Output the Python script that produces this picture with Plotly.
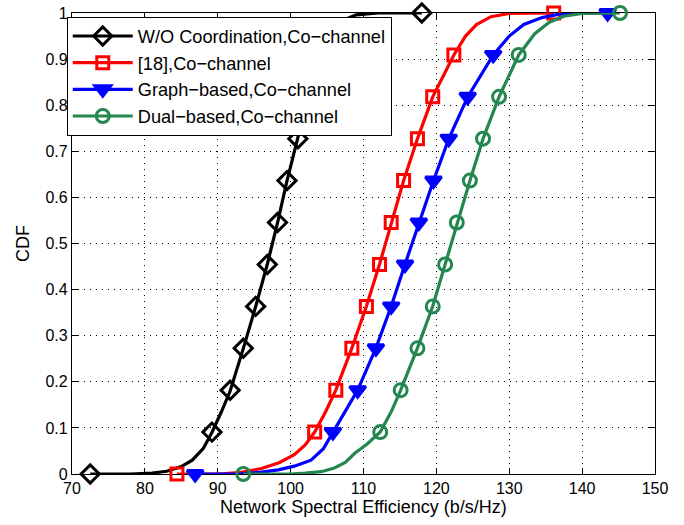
import plotly.graph_objects as go

# ---- data ----
names = ["W/O Coordination,Co\u2212channel", "[18],Co\u2212channel",
         "Graph\u2212based,Co\u2212channel", "Dual\u2212based,Co\u2212channel"]

# curve points (x = spectral efficiency, y = CDF)
black_x = [72.5, 78, 81, 83, 85, 86.5, 88, 89.2, 90.5, 91.7, 93.5, 95.2, 96.8, 98.2, 99.5,
           101.0, 102.4, 104.2, 105.5, 107, 109, 112, 118]
black_y = [0, 0, 0.002, 0.006, 0.016, 0.03, 0.055, 0.09, 0.135, 0.18, 0.272, 0.363, 0.455,
           0.545, 0.636, 0.727, 0.818, 0.909, 0.955, 0.983, 0.996, 1.0, 1.0]

red_x = [84.4, 90, 93, 96, 98.5, 100.5, 102, 103.3, 104.8, 106.2, 108.4, 110.4, 112.2, 113.8,
         115.5, 117.4, 119.5, 122.4, 124, 125.5, 127.5, 130, 133, 136.1]
red_y = [0, 0, 0.003, 0.012, 0.025, 0.042, 0.063, 0.091, 0.135, 0.182, 0.273, 0.364, 0.455,
         0.545, 0.636, 0.727, 0.818, 0.909, 0.95, 0.975, 0.992, 0.999, 1, 1]

blue_x = [86.9, 93, 96, 98.3, 100.5, 102.8, 104.5, 105.8, 107.5, 109.2, 111.7, 113.8, 115.7,
          117.6, 119.6, 121.7, 124.3, 127.8, 130, 132, 134.5, 137, 139, 143.5]
blue_y = [0, 0, 0.004, 0.009, 0.017, 0.03, 0.055, 0.091, 0.135, 0.182, 0.273, 0.364, 0.455,
          0.545, 0.636, 0.727, 0.818, 0.909, 0.95, 0.975, 0.99, 0.998, 1, 1]

green_x = [93.5, 100, 102, 104.2, 106, 107.5, 108.8, 110.5, 112.3, 113.8, 115.1, 117.4, 119.5,
           121.2, 122.8, 124.6, 126.4, 128.6, 131.3, 133.5, 135.5, 137.5, 140, 142, 145.2]
green_y = [0, 0, 0.002, 0.005, 0.013, 0.025, 0.045, 0.065, 0.091, 0.135, 0.182, 0.273, 0.364,
           0.455, 0.545, 0.636, 0.727, 0.818, 0.909, 0.955, 0.98, 0.993, 0.999, 1, 1]

# marker points (CDF levels k/11)
levels = [0, 0.0909, 0.1818, 0.2727, 0.3636, 0.4545, 0.5455, 0.6364, 0.7273, 0.8182, 0.9091, 1.0]
black_mx = [72.5, 89.2, 91.7, 93.5, 95.2, 96.8, 98.2, 99.5, 101.0, 102.4, 104.2, 118.0]
red_mx = [84.4, 103.3, 106.2, 108.4, 110.4, 112.2, 113.8, 115.5, 117.4, 119.5, 122.4, 136.1]
blue_mx = [86.9, 105.8, 109.2, 111.7, 113.8, 115.7, 117.6, 119.6, 121.7, 124.3, 127.8, 143.5]
green_mx = [93.5, 112.3, 115.1, 117.4, 119.5, 121.2, 122.8, 124.6, 126.4, 128.6, 131.3, 145.2]

x_ticks = [70, 80, 90, 100, 110, 120, 130, 140, 150]
y_ticks = [0, 0.1, 0.2, 0.3, 0.4, 0.5, 0.6, 0.7, 0.8, 0.9, 1]
y_ticklabels = ["0", "0.1", "0.2", "0.3", "0.4", "0.5", "0.6", "0.7", "0.8", "0.9", "1"]

# ---- styles ----
colors = ["#000000", "#ff0000", "#0000ff", "#23874f"]
symbols = ["diamond-open", "square-open", "triangle-down", "circle-open"]
msizes = [14, 12, 14, 13]
curves = [(black_x, black_y), (red_x, red_y), (blue_x, blue_y), (green_x, green_y)]
mxs = [black_mx, red_mx, blue_mx, green_mx]

fig = go.Figure()
for i in range(4):
    cx, cy = curves[i]
    fig.add_trace(go.Scatter(x=cx, y=cy, mode="lines", line=dict(color=colors[i], width=3.2),
                             showlegend=False, cliponaxis=False, hoverinfo="skip"))
    mk = dict(symbol=symbols[i], size=msizes[i], color=colors[i],
              line=dict(color=colors[i], width=3))
    fig.add_trace(go.Scatter(x=mxs[i], y=levels, mode="markers", marker=mk,
                             showlegend=False, cliponaxis=False))
    fig.add_trace(go.Scatter(x=[None], y=[None], mode="lines+markers", name=names[i],
                             line=dict(color=colors[i], width=3.2), marker=mk))

fam = "Liberation Sans, Arial, sans-serif"
tick_font = dict(family=fam, size=16, color="black")
title_font = dict(family=fam, size=18, color="black")
axis_common = dict(showline=True, linecolor="black", linewidth=1.2, mirror="allticks",
                   ticks="inside", ticklen=6, tickcolor="black", showgrid=True,
                   gridcolor="black", gridwidth=1, griddash="1px,5px", zeroline=False,
                   layer="below traces", tickfont=tick_font, automargin=False)

fig.update_layout(
    width=684, height=525,
    margin=dict(l=72, r=29, t=13, b=51, pad=0),
    plot_bgcolor="white", paper_bgcolor="white",
    font=tick_font,
    showlegend=True,
    legend=dict(x=-0.009, y=0.992, xanchor="left", yanchor="top",
                bgcolor="white", bordercolor="black", borderwidth=1,
                font=dict(family=fam, size=18.2, color="black"),
                itemwidth=60),
    xaxis=dict(range=[70, 150], tickvals=x_ticks,
               title=dict(text="Network Spectral Efficiency (b/s/Hz)", font=title_font, standoff=2),
               **axis_common),
    yaxis=dict(range=[0, 1], tickvals=y_ticks, ticktext=y_ticklabels,
               title=dict(text="CDF", font=title_font, standoff=11),
               **axis_common),
)

fig.write_html("out.html")
